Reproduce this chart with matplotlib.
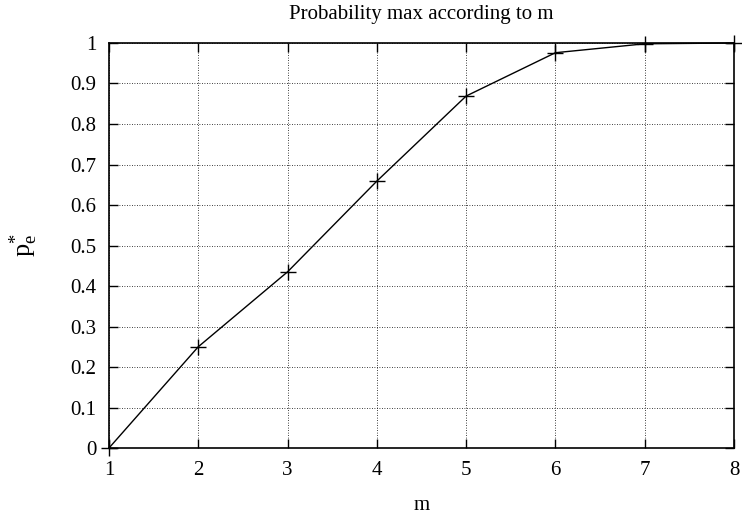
import matplotlib
matplotlib.use('Agg')
import matplotlib.pyplot as plt
from matplotlib.ticker import FormatStrFormatter

plt.rcParams['font.family'] = ['Liberation Serif', 'DejaVu Serif']
plt.rcParams['font.size'] = 15

# maximum probability for each m
m = [1, 2, 3, 4, 5, 6, 7, 8]
p_max = [0.0, 0.25, 0.435, 0.659, 0.869, 0.976, 0.998, 1.0]

x_ticks = [1, 2, 3, 4, 5, 6, 7, 8]
y_ticks = [0, 0.1, 0.2, 0.3, 0.4, 0.5, 0.6, 0.7, 0.8, 0.9, 1]

fig = plt.figure(figsize=(7.42, 5.18), dpi=100)
ax = fig.add_axes([0.1469, 0.1351, 0.8423, 0.7819])

ax.plot(m, p_max, color='black', lw=1.0, marker='+', ms=11, mew=1.0,
        clip_on=False, zorder=3)

ax.set_xlim(1, 8)
ax.set_ylim(0, 1)
ax.set_xticks(x_ticks)
ax.set_yticks(y_ticks)
ax.yaxis.set_major_formatter(FormatStrFormatter('%g'))
ax.tick_params(direction='in', length=6.5, width=1.0, top=True, right=True,
               labelsize=15)
ax.tick_params(axis='y', pad=9)
ax.tick_params(axis='x', pad=9)

ax.grid(True, color='black', linestyle=(0, (1, 2)), linewidth=0.6)
for s in ax.spines.values():
    s.set_linewidth(1.2)

ax.set_title('Probability max according to m', fontsize=15, pad=17)
ax.set_xlabel('m', fontsize=15, labelpad=12)
ax.set_ylabel(r'$\mathregular{p_e^{*}}$', fontsize=19, labelpad=22)

fig.savefig('out.png', dpi=100)
